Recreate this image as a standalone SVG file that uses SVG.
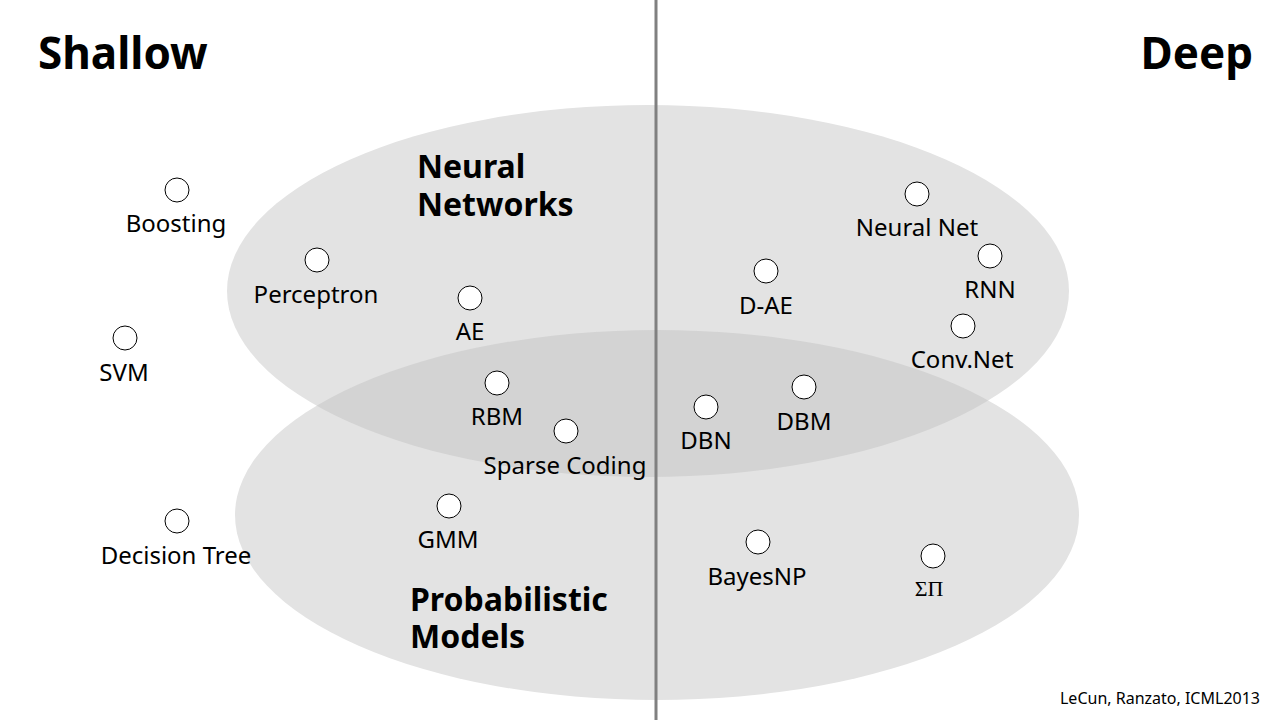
<svg xmlns="http://www.w3.org/2000/svg" width="1280" height="720" viewBox="0 0 1280 720">
<style>
.lbl{font-family:"Noto Sans","Open Sans",sans-serif;font-size:24px;fill:#000;text-anchor:middle}
.hd{font-family:"Noto Sans","Open Sans",sans-serif;font-weight:bold;fill:#000}
.nd{fill:#fff;stroke:#000;stroke-width:1}
.sig{font-family:"Liberation Serif",serif;font-size:22px;fill:#000;text-anchor:middle}
</style>
<defs>
<clipPath id="clipTop"><ellipse cx="648" cy="291" rx="421" ry="186"/></clipPath>
</defs>
<rect width="1280" height="720" fill="#fff"/>
<g id="regions">
<ellipse id="nn-region" cx="648" cy="291" rx="421" ry="186" fill="#e3e3e3"/>
<ellipse id="pm-region" cx="657" cy="515" rx="422" ry="185" fill="#e3e3e3"/>
<ellipse cx="657" cy="515" rx="422" ry="185" fill="#d3d3d3" clip-path="url(#clipTop)"/>
</g>
<g id="connectors">
<line x1="656" y1="0" x2="656" y2="720" stroke="#808080" stroke-width="3"/>
</g>
<text class="hd" x="38" y="69" font-size="44">Shallow</text>
<text class="hd" x="1253" y="69" font-size="44" text-anchor="end">Deep</text>
<text class="hd" x="417" y="178" font-size="32">Neural</text>
<text class="hd" x="417" y="216" font-size="32">Networks</text>
<text class="hd" x="410" y="611" font-size="32">Probabilistic</text>
<text class="hd" x="410" y="648" font-size="32">Models</text>
<g id="n-boosting"><circle class="nd" cx="177" cy="190" r="12"/><text class="lbl" x="176" y="232">Boosting</text></g>
<g id="n-perceptron"><circle class="nd" cx="317" cy="260" r="12"/><text class="lbl" x="316" y="303">Perceptron</text></g>
<g id="n-ae"><circle class="nd" cx="470" cy="298" r="12"/><text class="lbl" x="470" y="340">AE</text></g>
<g id="n-svm"><circle class="nd" cx="125" cy="338" r="12"/><text class="lbl" x="124" y="381">SVM</text></g>
<g id="n-rbm"><circle class="nd" cx="497" cy="383" r="12"/><text class="lbl" x="497" y="425">RBM</text></g>
<g id="n-sparse"><circle class="nd" cx="566" cy="431" r="12"/><text class="lbl" x="565" y="474">Sparse Coding</text></g>
<g id="n-dtree"><circle class="nd" cx="177" cy="521" r="12"/><text class="lbl" x="176" y="564">Decision Tree</text></g>
<g id="n-gmm"><circle class="nd" cx="449" cy="506" r="12"/><text class="lbl" x="448" y="548">GMM</text></g>
<g id="n-dae"><circle class="nd" cx="766" cy="271" r="12"/><text class="lbl" x="766" y="314">D-AE</text></g>
<g id="n-neuralnet"><circle class="nd" cx="917" cy="194" r="12"/><text class="lbl" x="917" y="236">Neural Net</text></g>
<g id="n-rnn"><circle class="nd" cx="990" cy="256" r="12"/><text class="lbl" x="990" y="298">RNN</text></g>
<g id="n-convnet"><circle class="nd" cx="963" cy="326" r="12"/><text class="lbl" x="962" y="368">Conv.Net</text></g>
<g id="n-dbn"><circle class="nd" cx="706" cy="407" r="12"/><text class="lbl" x="706" y="449">DBN</text></g>
<g id="n-dbm"><circle class="nd" cx="804" cy="387" r="12"/><text class="lbl" x="804" y="430">DBM</text></g>
<g id="n-bayesnp"><circle class="nd" cx="758" cy="542" r="12"/><text class="lbl" x="757" y="585">BayesNP</text></g>
<g id="n-sumprod"><circle class="nd" cx="933" cy="556" r="12"/><text class="sig" x="929" y="596">ΣΠ</text></g>
<text x="1260" y="704" font-family="Noto Sans, sans-serif" font-size="16" text-anchor="end" fill="#000">LeCun, Ranzato, ICML2013</text>
</svg>
